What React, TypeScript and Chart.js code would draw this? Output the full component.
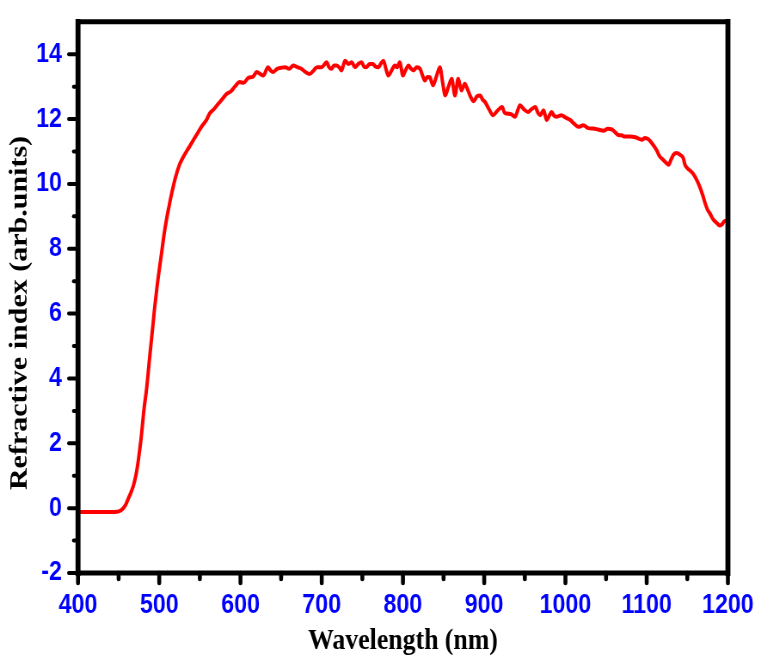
import React, { useEffect, useRef } from 'react';
import { Chart, registerables } from 'chart.js';

Chart.register(...registerables);

// ---- data ----
const wavelength = [
  400, 420, 440, 448, 452, 455.8, 459, 462, 465, 468, 470.5, 473, 476.3, 478.5, 481, 484.5, 488, 491, 494, 497,
  500, 503, 506, 509, 512, 515, 520, 525, 530, 536, 542, 548, 553, 558, 562, 567, 572, 577, 583, 588,
  593, 599, 604, 610, 615, 620, 625, 628, 634, 637, 640, 645, 650, 655, 660, 665, 670, 675, 680, 685,
  690, 694, 700, 706, 709, 712, 715, 718, 722, 724.5, 728.6, 733, 737, 741, 745, 749, 752, 755, 759, 763,
  766, 770, 773, 776, 779, 782, 786, 790, 793, 796, 800, 803, 807, 810, 813, 817, 821, 824, 827, 830,
  833, 837, 841, 845.5, 849, 852, 856, 860, 864, 868, 872, 876, 879, 883, 887, 891, 895, 898, 901, 906,
  911, 916, 922, 925, 928, 933, 938, 941, 944, 949, 954, 958, 963, 966, 969, 973, 977, 980, 983, 986,
  989, 995, 1000, 1006, 1011, 1016, 1022, 1028, 1034, 1040, 1047, 1052, 1057, 1061, 1065, 1069, 1073, 1079, 1086, 1090,
  1094, 1098, 1102, 1105, 1108, 1112, 1116, 1120, 1124, 1127, 1130, 1133, 1137, 1141, 1145, 1147, 1150, 1154, 1157, 1161,
  1165, 1169, 1172, 1175, 1178, 1182, 1186, 1190, 1193, 1196, 1200,
];

const refractiveIndex = [
  -0.12, -0.12, -0.12, -0.11, -0.08, 0.0, 0.12, 0.3, 0.47, 0.68, 0.92, 1.26, 1.87, 2.35, 3.0, 3.7, 4.6, 5.34, 6.1, 6.77,
  7.35, 7.89, 8.45, 8.91, 9.3, 9.67, 10.2, 10.6, 10.85, 11.1, 11.35, 11.6, 11.8, 11.97, 12.17, 12.3, 12.45, 12.6, 12.78, 12.85,
  13.0, 13.14, 13.12, 13.28, 13.3, 13.45, 13.38, 13.34, 13.6, 13.5, 13.45, 13.55, 13.58, 13.6, 13.55, 13.65, 13.6, 13.55, 13.45, 13.39,
  13.5, 13.6, 13.6, 13.75, 13.6, 13.55, 13.65, 13.65, 13.58, 13.5, 13.8, 13.7, 13.75, 13.6, 13.7, 13.75, 13.62, 13.6, 13.7, 13.7,
  13.62, 13.6, 13.72, 13.8, 13.55, 13.34, 13.5, 13.65, 13.6, 13.75, 13.34, 13.5, 13.65, 13.55, 13.5, 13.6, 13.55, 13.35, 13.19, 13.3,
  13.29, 13.04, 13.3, 13.6, 13.1, 12.73, 13.0, 13.24, 12.73, 13.24, 12.88, 13.09, 12.95, 12.7, 12.55, 12.7, 12.73, 12.6, 12.53, 12.3,
  12.12, 12.25, 12.37, 12.2, 12.17, 12.15, 12.07, 12.25, 12.43, 12.3, 12.22, 12.3, 12.37, 12.2, 12.12, 12.27, 11.97, 12.1, 12.22, 12.1,
  12.07, 12.12, 12.05, 11.97, 11.85, 11.76, 11.81, 11.72, 11.71, 11.68, 11.64, 11.7, 11.68, 11.6, 11.51, 11.5, 11.46, 11.46, 11.44, 11.4,
  11.36, 11.42, 11.38, 11.3, 11.2, 11.05, 10.85, 10.75, 10.65, 10.59, 10.75, 10.9, 10.95, 10.9, 10.8, 10.6, 10.49, 10.4, 10.32, 10.15,
  9.93, 9.65, 9.4, 9.2, 9.08, 8.9, 8.8, 8.72, 8.76, 8.86, 8.85,
];

const xTicks = [400, 500, 600, 700, 800, 900, 1000, 1100, 1200];
const xMinorTicks = [450, 550, 650, 750, 850, 950, 1050, 1150];
const yTicks = [-2, 0, 2, 4, 6, 8, 10, 12, 14];
const yMinorTicks = [-1, 1, 3, 5, 7, 9, 11, 13];

const xTitle = 'Wavelength (nm)';
const yTitle = 'Refractive index (arb.units)';

// ---- layout ----
const SX = 0.86; // horizontal squeeze of the reference picture
const CSS_W = 761;
const CSS_H = 668;
const W = Math.round(CSS_W / SX);
const H = CSS_H;
const AREA_LEFT = 78 / SX;
const AREA_RIGHT = 728 / SX;
const AREA_TOP = 17;
const AREA_BOTTOM = 573;

const framePlugin = {
  id: 'frameAndTicks',
  afterDraw(chart: any) {
    const { ctx, chartArea: a, scales } = chart;
    const xs = scales.x;
    const ys = scales.y;
    const line = (x1: number, y1: number, x2: number, y2: number) => {
      ctx.beginPath();
      ctx.moveTo(x1, y1);
      ctx.lineTo(x2, y2);
      ctx.stroke();
    };
    ctx.save();
    ctx.strokeStyle = '#000';
    ctx.lineCap = 'round';
    ctx.lineWidth = 4.6;
    for (const v of xTicks) {
      const px = xs.getPixelForValue(v);
      line(px, a.bottom, px, a.bottom + 10);
    }
    for (const v of xMinorTicks) {
      const px = xs.getPixelForValue(v);
      line(px, a.bottom, px, a.bottom + 6);
    }
    ctx.lineWidth = 4;
    for (const v of yTicks) {
      const py = ys.getPixelForValue(v);
      line(a.left, py, a.left - 10.7, py);
    }
    for (const v of yMinorTicks) {
      const py = ys.getPixelForValue(v);
      line(a.left, py, a.left - 5, py);
    }
    ctx.lineCap = 'square';
    ctx.lineWidth = 5;
    line(a.left, a.top, a.right, a.top);
    line(a.left, a.bottom, a.right, a.bottom);
    ctx.lineWidth = 5.8;
    line(a.left, a.top, a.left, a.bottom);
    line(a.right, a.top, a.right, a.bottom);

    // y-axis title
    ctx.translate(19.8 / SX, 313);
    ctx.rotate(-Math.PI / 2);
    ctx.fillStyle = '#000';
    ctx.textAlign = 'center';
    ctx.textBaseline = 'middle';
    ctx.font = 'bold 30px "Liberation Serif", "Times New Roman", serif';
    ctx.fillText(yTitle, 0, 0);
    ctx.restore();
  },
};

export default function App() {
  const canvasRef = useRef<HTMLCanvasElement | null>(null);

  useEffect(() => {
    document.body.style.margin = '0';
    const canvas = canvasRef.current;
    if (!canvas) return;
    const points = wavelength.map((x, i) => ({ x, y: refractiveIndex[i] }));
    const tickFont = { family: '"Liberation Sans", Arial, sans-serif', size: 27, weight: 'bold' as const };
    const chart = new Chart(canvas, {
      type: 'line',
      data: {
        datasets: [
          {
            data: points,
            borderColor: '#ff0000',
            borderWidth: 4,
            pointRadius: 0,
            tension: 0.2,
            cubicInterpolationMode: 'monotone',
            fill: false,
          },
        ],
      },
      options: {
        responsive: false,
        devicePixelRatio: 1,
        animation: false,
        events: [],
        layout: {
          padding: { top: AREA_TOP, left: 0, right: W - AREA_RIGHT, bottom: 0 },
        },
        plugins: {
          legend: { display: false },
          tooltip: { enabled: false },
        },
        scales: {
          x: {
            type: 'linear',
            min: 400,
            max: 1200,
            afterBuildTicks: (s: any) => {
              s.ticks = xTicks.map((v) => ({ value: v }));
            },
            afterFit: (s: any) => {
              s.height = H - AREA_BOTTOM;
            },
            border: { display: false },
            grid: { display: false, drawTicks: true, tickLength: 11 },
            ticks: {
              font: tickFont,
              color: '#0000ff',
              padding: 5.8,
              maxRotation: 0,
              autoSkip: false,
              callback: (v: any) => String(v),
            },
            title: {
              display: true,
              text: xTitle,
              color: '#000',
              font: { family: '"Liberation Serif", "Times New Roman", serif', size: 30, weight: 'bold' },
              padding: { top: 0, bottom: 8.4 },
            },
          },
          y: {
            type: 'linear',
            min: -2,
            max: 15,
            afterBuildTicks: (s: any) => {
              s.ticks = yTicks.map((v) => ({ value: v }));
            },
            afterFit: (s: any) => {
              s.width = AREA_LEFT;
            },
            border: { display: false },
            grid: { display: false, drawTicks: true, tickLength: 13 },
            ticks: {
              font: tickFont,
              color: '#0000ff',
              padding: 5.6,
              autoSkip: false,
              callback: (v: any) => String(v),
            },
            title: { display: false },
          },
        },
      },
      plugins: [framePlugin],
    });
    return () => chart.destroy();
  }, []);

  return (
    <div style={{ position: 'absolute', left: 0, top: 0, width: CSS_W, height: CSS_H, background: '#fff' }}>
      <canvas
        ref={canvasRef}
        width={W}
        height={H}
        style={{ width: CSS_W + 'px', height: CSS_H + 'px', display: 'block' }}
      />
    </div>
  );
}
